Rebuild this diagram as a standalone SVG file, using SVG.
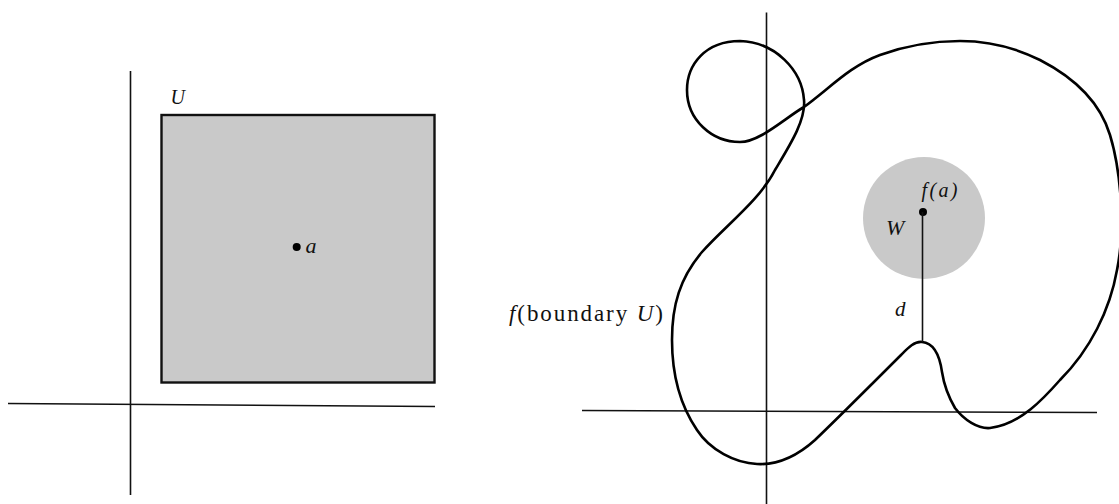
<svg xmlns="http://www.w3.org/2000/svg" width="1119" height="504" viewBox="0 0 1119 504">
<style>
.axis{stroke:#111;stroke-width:1.6;fill:none}
.bold{stroke:#000;stroke-width:2.6;fill:none;stroke-linejoin:round;stroke-linecap:round}
.shade{fill:#c9c9c9}
.lbl{font-family:"Liberation Serif","Times New Roman",serif;fill:#111}
.it{font-style:italic}
.dot{fill:#000}
</style>
<rect width="1119" height="504" fill="#fff"/>
<g id="left-axes">
<line class="axis" x1="8" y1="403.5" x2="435" y2="406.5"/>
<line class="axis" x1="130.5" y1="71" x2="130.5" y2="495"/>
</g>
<g id="square-U">
<rect class="shade" x="161.5" y="115" width="273" height="267.5" stroke="#111" stroke-width="2.4"/>
<text class="lbl it" x="170.5" y="103.5" font-size="20">U</text>
</g>
<g id="point-a">
<circle class="dot" cx="296.7" cy="247" r="4"/>
<text class="lbl it" x="305.5" y="252.5" font-size="22">a</text>
</g>
<g id="right-axes">
<line class="axis" x1="582" y1="410.5" x2="1097" y2="412.5"/>
<line class="axis" x1="766.5" y1="12.5" x2="766.5" y2="504"/>
</g>
<g id="disc-W">
<circle class="shade" cx="924" cy="218" r="61"/>
<text class="lbl it" x="886" y="235" font-size="22">W</text>
<circle class="dot" cx="923" cy="212" r="4"/>
<text class="lbl it" x="921.5" y="196.5" font-size="20" textLength="36" lengthAdjust="spacing">f(a)</text>
</g>
<g id="boundary-curve">
<path class="bold" d="M804,107 C830,88 850,66 880,55 C905,46 930,41 960,41 C995,41 1020,50 1040,60 C1075,78 1100,102 1110,135 C1120,168 1126,225 1117,270 C1110,310 1090,350 1060,380 C1045,397 1020,425 990,428 C978,429 964,420 955,408 C948,396 944,385 942,372 C940,358 935,343 922,342 C914,341 907,349 900,356 C880,376 840,416 815,440 C795,458 775,465 757,464 C735,463 710,450 697,430 C680,405 672,375 672,340 C672,305 680,278 702,252 C725,226 760,200 775,170 C790,145 806,120 804,100 C802,70 775,42 740,41 C705,41 687,65 687,90 C687,120 712,142 740,142 C760,142 785,118 804,107"/>
<text class="lbl" x="509" y="320.5" font-size="23" textLength="154" lengthAdjust="spacing"><tspan class="it">f</tspan>(boundary <tspan class="it">U</tspan>)</text>
</g>
<g id="connectors">
<line x1="922.5" y1="212" x2="922.5" y2="342" stroke="#111" stroke-width="1.6"/>
</g>
<g id="label-d">
<text class="lbl it" x="895" y="316" font-size="21">d</text>
</g>
</svg>
